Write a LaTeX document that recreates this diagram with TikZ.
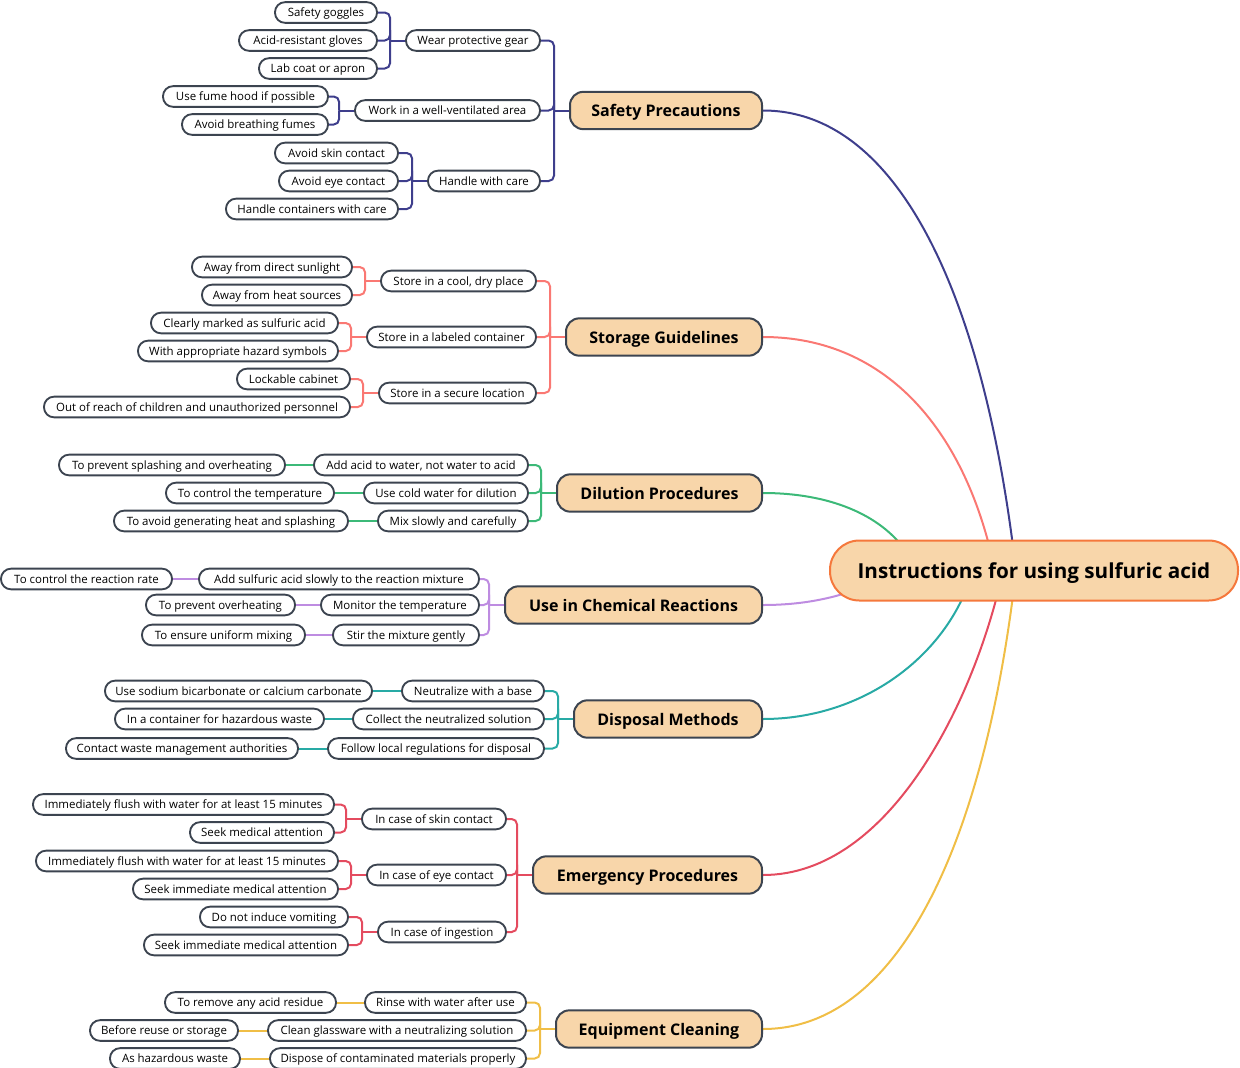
\documentclass[tikz,border=0pt]{standalone}
\usepackage{fontspec}
\setmainfont{Open Sans}
\usetikzlibrary{calc}
\pgfdeclarelayer{background}
\pgfsetlayers{background,main}
\definecolor{bord}{RGB}{60,68,80}
\definecolor{mfill}{RGB}{248,214,170}
\definecolor{rbord}{RGB}{245,120,60}
\definecolor{colA}{RGB}{62,62,140}
\definecolor{colB}{RGB}{250,120,115}
\definecolor{colC}{RGB}{60,185,120}
\definecolor{colD}{RGB}{190,140,225}
\definecolor{colE}{RGB}{40,170,165}
\definecolor{colF}{RGB}{228,75,95}
\definecolor{colG}{RGB}{240,190,70}
\tikzset{
  leaf/.style={draw=bord, line width=1.4pt, fill=white, rounded corners=7.5pt,
    minimum height=15.5pt, inner sep=0pt, text height=6.4pt, text depth=0pt,
    font=\fontsize{8.6}{10}\selectfont, text=black},
  mainnode/.style={draw=bord, line width=1.5pt, fill=mfill, rounded corners=10pt,
    minimum height=28pt, inner sep=0pt, text height=9pt, text depth=0pt,
    font=\fontsize{12}{14}\selectfont\bfseries, text=black},
  rootnode/.style={draw=rbord, line width=1.5pt, fill=mfill, rounded corners=22pt,
    minimum height=45pt, inner sep=0pt, text height=11.5pt, text depth=0pt,
    font=\fontsize{15.5}{18}\selectfont\bfseries, text=black},
  conn/.style={line width=1.5pt},
}
\newcommand\lf[5]{\node[leaf, minimum width={(#3-#2)*0.75pt}] (#1) at ({(#2+#3)/2},#4) {#5};}
\newcommand\mn[5]{\node[mainnode, minimum width={(#3-#2)*0.75pt}] (#1) at ({(#2+#3)/2},#4) {#5};}
\newcommand\br[3]{\draw[conn,#1,rounded corners=4pt] (#2.east) -| ($(#3.west)+(-15,0)$);}
\newcommand\stem[2]{\draw[conn,#1] ($(#2.west)+(-15,0)$) -- (#2.west);}
\newcommand\lnk[3]{\draw[conn,#1] (#2.east) -- (#3.west);}
\begin{document}
\begin{tikzpicture}[x=0.75pt,y=-0.75pt]
\useasboundingbox (0,0) rectangle (1240,1068);
% root
\node[rootnode, minimum width={408*0.75pt}] (root) at (1034,570.5) {Instructions for using sulfuric acid};
% ---- Safety
\mn{sp}{570}{762}{110.5}{Safety Precautions}
\lf{a1}{406}{540}{40.5}{Wear protective gear}
\lf{a2}{355}{540}{110.5}{Work in a well-ventilated area}
\lf{a3}{428}{540}{181}{Handle with care}
\lf{a11}{275}{377}{12.5}{Safety goggles}
\lf{a12}{239}{377}{40.5}{Acid-resistant gloves}
\lf{a13}{259}{377}{68.5}{Lab coat or apron}
\lf{a21}{163}{328}{96.5}{Use fume hood if possible}
\lf{a22}{182}{328}{124.5}{Avoid breathing fumes}
\lf{a31}{275}{398}{153}{Avoid skin contact}
\lf{a32}{279}{398}{181}{Avoid eye contact}
\lf{a33}{226}{398}{209}{Handle containers with care}
% ---- Storage
\mn{sg}{566}{762}{337}{Storage Guidelines}
\lf{b1}{381}{536}{281}{Store in a cool, dry place}
\lf{b2}{367}{536}{337}{Store in a labeled container}
\lf{b3}{379}{536}{393}{Store in a secure location}
\lf{b11}{192}{352}{267}{Away from direct sunlight}
\lf{b12}{202}{352}{295}{Away from heat sources}
\lf{b21}{151}{338}{323}{Clearly marked as sulfuric acid}
\lf{b22}{138}{338}{351}{With appropriate hazard symbols}
\lf{b31}{237}{350}{379}{Lockable cabinet}
\lf{b32}{44}{350}{407}{Out of reach of children and unauthorized personnel}
% ---- Dilution
\mn{dp}{557}{762}{493}{Dilution Procedures}
\lf{c1}{314}{528}{465}{Add acid to water, not water to acid}
\lf{c2}{364}{528}{493}{Use cold water for dilution}
\lf{c3}{378}{528}{521}{Mix slowly and carefully}
\lf{c11}{59}{285}{465}{To prevent splashing and overheating}
\lf{c21}{166}{334}{493}{To control the temperature}
\lf{c31}{114}{348}{521}{To avoid generating heat and splashing}
% ---- Chemical reactions
\mn{cr}{505}{762}{605}{Use in Chemical Reactions}
\lf{d1}{199}{479}{579}{Add sulfuric acid slowly to the reaction mixture}
\lf{d2}{321}{479}{605}{Monitor the temperature}
\lf{d3}{333}{479}{635}{Stir the mixture gently}
\lf{d11}{1}{172}{579}{To control the reaction rate}
\lf{d21}{146}{295}{605}{To prevent overheating}
\lf{d31}{142}{305}{635}{To ensure uniform mixing}
% ---- Disposal
\mn{dm}{574}{762}{719}{Disposal Methods}
\lf{e1}{402}{544}{691}{Neutralize with a base}
\lf{e2}{353}{544}{719}{Collect the neutralized solution}
\lf{e3}{328}{544}{748.5}{Follow local regulations for disposal}
\lf{e11}{105}{372}{691}{Use sodium bicarbonate or calcium carbonate}
\lf{e21}{115}{324}{719}{In a container for hazardous waste}
\lf{e31}{66}{298}{748.5}{Contact waste management authorities}
% ---- Emergency
\mn{ep}{533}{762}{875}{Emergency Procedures}
\lf{f1}{362}{506}{819}{In case of skin contact}
\lf{f2}{367}{506}{875}{In case of eye contact}
\lf{f3}{378}{506}{932}{In case of ingestion}
\lf{f11}{33}{334}{804.5}{Immediately flush with water for at least 15 minutes}
\lf{f12}{190}{334}{832.5}{Seek medical attention}
\lf{f21}{36}{338}{861}{Immediately flush with water for at least 15 minutes}
\lf{f22}{133}{338}{889}{Seek immediate medical attention}
\lf{f31}{200}{348}{917}{Do not induce vomiting}
\lf{f32}{144}{348}{945}{Seek immediate medical attention}
% ---- Equipment
\mn{ec}{556}{762}{1029}{Equipment Cleaning}
\lf{g1}{365}{526}{1002.5}{Rinse with water after use}
\lf{g2}{268}{526}{1030.5}{Clean glassware with a neutralizing solution}
\lf{g3}{270}{526}{1058.5}{Dispose of contaminated materials properly}
\lf{g11}{165}{336}{1002.5}{To remove any acid residue}
\lf{g21}{90}{238}{1030.5}{Before reuse or storage}
\lf{g31}{110}{240}{1058.5}{As hazardous waste}
% curve ends inside root
\coordinate (eA) at (1016,571);
\coordinate (eB) at (995,571);
\coordinate (eC) at (905,550);
\coordinate (eD) at (855,590);
\coordinate (eE) at (968,585);
\coordinate (eF) at (1003,571);
\coordinate (eG) at (1016,571);
\begin{pgfonlayer}{background}
% curves
\draw[conn,colA] (sp.east) .. controls (900,110.5) and (985,300) .. (eA);
\draw[conn,colB] (sg.east) .. controls (888,337) and (967,433) .. (eB);
\draw[conn,colC] (dp.east) .. controls (830,493) and (880,515) .. (eC);
\draw[conn,colD] (cr.east) .. controls (800,605) and (830,599) .. (eD);
\draw[conn,colE] (dm.east) .. controls (860,719) and (940,660) .. (eE);
\draw[conn,colF] (ep.east) .. controls (890,875) and (975,700) .. (eF);
\draw[conn,colG] (ec.east) .. controls (900,1029) and (985,840) .. (eG);
% Safety
\br{colA}{a1}{sp}\br{colA}{a2}{sp}\br{colA}{a3}{sp}\stem{colA}{sp}
\br{colA}{a11}{a1}\br{colA}{a12}{a1}\br{colA}{a13}{a1}\stem{colA}{a1}
\br{colA}{a21}{a2}\br{colA}{a22}{a2}\stem{colA}{a2}
\br{colA}{a31}{a3}\br{colA}{a32}{a3}\br{colA}{a33}{a3}\stem{colA}{a3}
% Storage
\br{colB}{b1}{sg}\br{colB}{b2}{sg}\br{colB}{b3}{sg}\stem{colB}{sg}
\br{colB}{b11}{b1}\br{colB}{b12}{b1}\stem{colB}{b1}
\br{colB}{b21}{b2}\br{colB}{b22}{b2}\stem{colB}{b2}
\br{colB}{b31}{b3}\br{colB}{b32}{b3}\stem{colB}{b3}
% Dilution
\br{colC}{c1}{dp}\br{colC}{c2}{dp}\br{colC}{c3}{dp}\stem{colC}{dp}
\lnk{colC}{c11}{c1}\lnk{colC}{c21}{c2}\lnk{colC}{c31}{c3}
% Chemical
\br{colD}{d1}{cr}\br{colD}{d2}{cr}\br{colD}{d3}{cr}\stem{colD}{cr}
\lnk{colD}{d11}{d1}\lnk{colD}{d21}{d2}\lnk{colD}{d31}{d3}
% Disposal
\br{colE}{e1}{dm}\br{colE}{e2}{dm}\br{colE}{e3}{dm}\stem{colE}{dm}
\lnk{colE}{e11}{e1}\lnk{colE}{e21}{e2}\lnk{colE}{e31}{e3}
% Emergency
\br{colF}{f1}{ep}\br{colF}{f2}{ep}\br{colF}{f3}{ep}\stem{colF}{ep}
\br{colF}{f11}{f1}\br{colF}{f12}{f1}\stem{colF}{f1}
\br{colF}{f21}{f2}\br{colF}{f22}{f2}\stem{colF}{f2}
\br{colF}{f31}{f3}\br{colF}{f32}{f3}\stem{colF}{f3}
% Equipment
\br{colG}{g1}{ec}\br{colG}{g2}{ec}\br{colG}{g3}{ec}\stem{colG}{ec}
\lnk{colG}{g11}{g1}\lnk{colG}{g21}{g2}\lnk{colG}{g31}{g3}
\end{pgfonlayer}
\end{tikzpicture}
\end{document}
